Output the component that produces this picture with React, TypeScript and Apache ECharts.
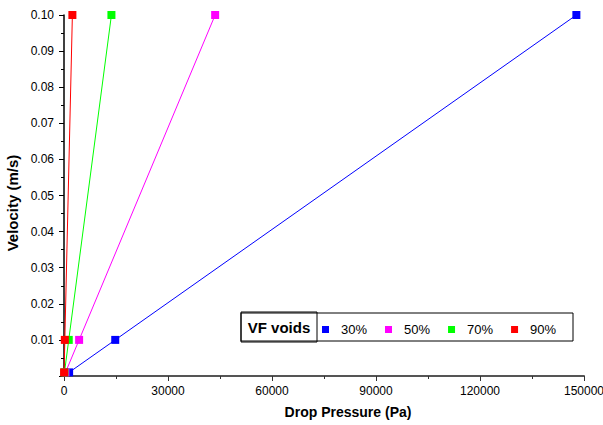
import React, { useEffect, useRef } from "react";
import * as echarts from "echarts";

const velocities = [0.001, 0.01, 0.1];
const seriesNames = ["30%", "50%", "70%", "90%"];
const pressure30 = [1478, 14780, 147800];
const pressure50 = [436, 4360, 43600];
const pressure70 = [137, 1368, 13680];
const pressure90 = [24, 242, 2420];
const seriesColors = ["#0000ff", "#ff00ff", "#00ff00", "#ff0000"];
const allPressures = [pressure30, pressure50, pressure70, pressure90];

const FONT = "'Liberation Sans', Arial, sans-serif";

export default function App() {
  const ref = useRef<HTMLDivElement>(null);
  useEffect(() => {
    if (!ref.current) return;
    const chart = echarts.init(ref.current, undefined, { renderer: "svg" });
    chart.setOption({
      animation: false,
      backgroundColor: "#ffffff",
      grid: {
        left: 64,
        right: 19,
        top: 15,
        bottom: 49,
        containLabel: false,
        outerBoundsMode: "none",
      },
      xAxis: {
        type: "value",
        min: 0,
        max: 150000,
        interval: 30000,
        name: "Drop Pressure (Pa)",
        nameLocation: "middle",
        nameGap: 29,
        nameTextStyle: {
          fontFamily: FONT,
          fontWeight: "bold",
          fontSize: 14,
          color: "#000",
          padding: [0, 0, 0, 48],
        },
        axisLine: { show: true, lineStyle: { color: "#555", width: 2 } },
        axisTick: { show: true, length: 5, lineStyle: { color: "#333" } },
        minorTick: { show: true, splitNumber: 2, length: 3, lineStyle: { color: "#333" } },
        axisLabel: {
          fontFamily: FONT,
          fontSize: 12,
          color: "#000",
          margin: 9,
          formatter: (v: number) => String(v),
        },
        splitLine: { show: false },
      },
      yAxis: {
        type: "value",
        min: 0,
        max: 0.1,
        interval: 0.01,
        name: "Velocity (m/s)",
        nameLocation: "middle",
        nameGap: 42,
        nameRotate: 90,
        nameTextStyle: {
          fontFamily: FONT,
          fontWeight: "bold",
          fontSize: 15,
          color: "#000",
          padding: [0, 15, 0, 0],
        },
        axisLine: { show: true, lineStyle: { color: "#000", width: 1.5 } },
        axisTick: { show: true, length: 5, lineStyle: { color: "#000" } },
        minorTick: { show: true, splitNumber: 2, length: 3, lineStyle: { color: "#000" } },
        axisLabel: {
          fontFamily: FONT,
          fontSize: 12,
          color: "#000",
          margin: 10,
          formatter: (v: number) => (v === 0 ? "" : v.toFixed(2)),
        },
        splitLine: { show: false },
      },
      legend: {
        data: seriesNames,
        left: 317,
        top: 318,
        icon: "rect",
        itemWidth: 7,
        itemHeight: 7,
        itemGap: 18,
        textStyle: { fontFamily: FONT, fontSize: 13, color: "#000", padding: [0, 0, 0, 7] },
      },
      graphic: [
        {
          type: "rect",
          shape: { x: 241, y: 313, width: 332, height: 28 },
          style: { fill: "none", stroke: "#000", lineWidth: 1 },
          z: 100,
        },
        {
          type: "rect",
          shape: { x: 241, y: 312, width: 76, height: 30 },
          style: { fill: "none", stroke: "#000", lineWidth: 1 },
          z: 100,
        },
        {
          type: "text",
          x: 279,
          y: 327,
          style: {
            text: "VF voids",
            fontFamily: FONT,
            fontWeight: "bold",
            fontSize: 15,
            fill: "#000",
            align: "center",
            verticalAlign: "middle",
          },
          z: 100,
        },
      ],
      series: seriesNames.map((name, i) => ({
        name,
        type: "line",
        data: allPressures[i].map((p, j) => [p, velocities[j]]),
        symbol: "rect",
        symbolSize: 8,
        showAllSymbol: true,
        lineStyle: { color: seriesColors[i], width: 1 },
        itemStyle: { color: seriesColors[i] },
        emphasis: { disabled: true },
      })),
    });
    return () => chart.dispose();
  }, []);
  return <div ref={ref} style={{ width: 603, height: 425, position: "absolute", left: 0, top: 0 }} />;
}
